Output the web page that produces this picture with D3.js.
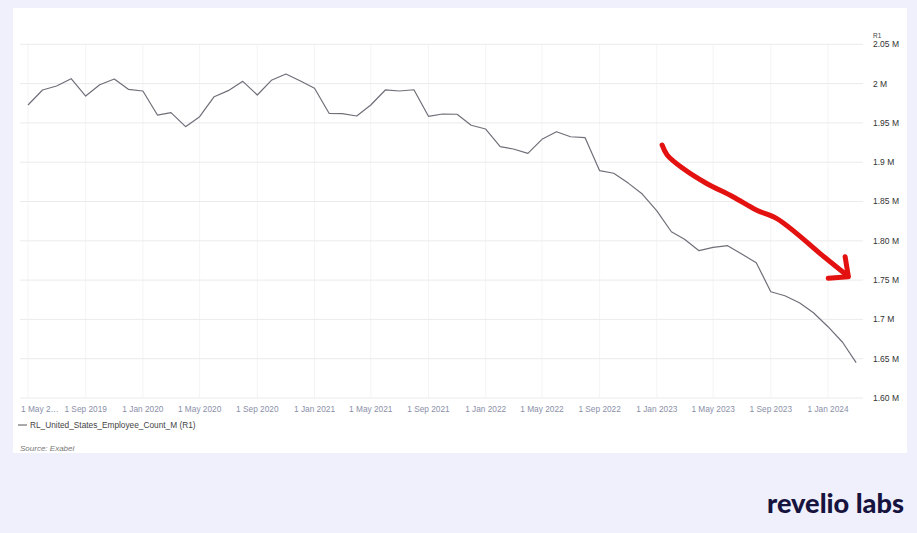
<!DOCTYPE html>
<html>
<head>
<meta charset="utf-8">
<script src="https://cdn.jsdelivr.net/npm/d3@7"></script>
<style>
  html, body { margin: 0; padding: 0; background: #eff0fb; }
  svg { display: block; }
</style>
</head>
<body>
<script>
// ---------- DATA ----------
const startMonth = "2019-05-01";
const employeeCountM = [
  1.9728, 1.9919, 1.9970, 2.0062, 1.9842, 1.9986, 2.0058, 1.9927,
  1.9906, 1.9600, 1.9630, 1.9452, 1.9579, 1.9833, 1.9910, 2.0029, 1.9855, 2.0042, 2.0122, 2.0037,
  1.9940, 1.9622, 1.9617, 1.9588, 1.9728, 1.9919, 1.9906, 1.9922, 1.9584, 1.9613, 1.9610, 1.9470,
  1.9422, 1.9197, 1.9168, 1.9113, 1.9291, 1.9388, 1.9324, 1.9312, 1.8892, 1.8859, 1.8734, 1.8595,
  1.8380, 1.8115, 1.8019, 1.7874, 1.7917, 1.7938, 1.7832, 1.7721, 1.7352, 1.7301, 1.7212, 1.7085,
  1.6907, 1.6709, 1.6450
];
const xTickDates = ["2019-05-01","2019-09-01","2020-01-01","2020-05-01","2020-09-01","2021-01-01",
  "2021-05-01","2021-09-01","2022-01-01","2022-05-01","2022-09-01","2023-01-01","2023-05-01",
  "2023-09-01","2024-01-01"];
const xTickLabels = ["1 May 2…","1 Sep 2019","1 Jan 2020","1 May 2020","1 Sep 2020","1 Jan 2021",
  "1 May 2021","1 Sep 2021","1 Jan 2022","1 May 2022","1 Sep 2022","1 Jan 2023","1 May 2023",
  "1 Sep 2023","1 Jan 2024"];
const yTickValues = [2.05, 2.00, 1.95, 1.90, 1.85, 1.80, 1.75, 1.70, 1.65, 1.60];
const yTickLabels = ["2.05 M","2 M","1.95 M","1.9 M","1.85 M","1.80 M","1.75 M","1.7 M","1.65 M","1.60 M"];
const seriesName = "RL_United_States_Employee_Count_M (R1)";
const sourceText = "Source: Exabel";
// hand-drawn annotation arrow, in (month index from start, value)
const arrowShaft = [[44.36,1.9219],[44.71,1.9092],[45.87,1.8922],[47.51,1.8732],[49.37,1.8561],
  [51.0,1.8392],[52.4,1.8286],[53.8,1.8095],[55.44,1.7841],[57.3,1.7565]];
const arrowHeadA = [[57.19,1.7798],[57.42,1.7552]];
const arrowHeadB = [[56.02,1.7523],[57.42,1.7543]];

// ---------- SETUP ----------
const W = 917, H = 533;
const parse = d3.timeParse("%Y-%m-%d");
const start = parse(startMonth);
const data = employeeCountM.map((v, i) => ({ date: d3.timeMonth.offset(start, i), value: v }));
function monthIdxToDate(m) {
  const f = Math.floor(m);
  const a = d3.timeMonth.offset(start, f), b = d3.timeMonth.offset(start, f + 1);
  return new Date(+a + (m - f) * (b - a));
}

const svg = d3.select("body").append("svg").attr("width", W).attr("height", H);
svg.append("rect").attr("width", W).attr("height", H).attr("fill", "#eff0fb");
svg.append("rect").attr("x", 13).attr("y", 8).attr("width", 894).attr("height", 445).attr("fill", "#ffffff");

const x = d3.scaleTime().domain([parse("2019-05-01"), parse("2024-01-01")]).range([28, 828]);
const y = d3.scaleLinear().domain([1.60, 2.05]).range([398, 44.3]);
const gridLeft = 20, gridRight = 863;

// vertical grid
svg.append("g").selectAll("line").data(xTickDates).join("line")
  .attr("x1", d => x(parse(d))).attr("x2", d => x(parse(d)))
  .attr("y1", y(2.05)).attr("y2", y(1.60))
  .attr("stroke", "#f4f4f6").attr("stroke-width", 1);

// horizontal grid
svg.append("g").selectAll("line").data(yTickValues).join("line")
  .attr("x1", gridLeft).attr("x2", gridRight)
  .attr("y1", d => y(d)).attr("y2", d => y(d))
  .attr("stroke", "#ebebee").attr("stroke-width", 1);

// y labels (right)
svg.append("g").selectAll("text").data(yTickValues).join("text")
  .attr("x", 873).attr("y", d => y(d)).attr("dy", "0.35em")
  .attr("font-family", "Liberation Sans, Arial, sans-serif").attr("font-size", 8.5)
  .attr("fill", "#333").text((d, i) => yTickLabels[i]);
svg.append("text").attr("x", 873).attr("y", y(2.05) - 6)
  .attr("font-family", "Liberation Sans, Arial, sans-serif").attr("font-size", 6.5)
  .attr("fill", "#444").text("R1");

// x labels
svg.append("g").selectAll("text").data(xTickDates).join("text")
  .attr("x", (d, i) => i === 0 ? 21 : x(parse(d)))
  .attr("y", 412)
  .attr("text-anchor", (d, i) => i === 0 ? "start" : "middle")
  .attr("font-family", "Liberation Sans, Arial, sans-serif").attr("font-size", 8.3)
  .attr("fill", "#8a8fa8").text((d, i) => xTickLabels[i]);

// line
const line = d3.line().x(d => x(d.date)).y(d => y(d.value));
svg.append("path").datum(data).attr("d", line)
  .attr("fill", "none").attr("stroke", "#6f6f79").attr("stroke-width", 1.2)
  .attr("stroke-linejoin", "round");

// annotation arrow
const arrowLine = d3.line().x(d => x(monthIdxToDate(d[0]))).y(d => y(d[1])).curve(d3.curveCatmullRom);
[arrowShaft, arrowHeadA, arrowHeadB].forEach(pts => {
  svg.append("path").attr("d", arrowLine(pts))
    .attr("fill", "none").attr("stroke", "#e3110f").attr("stroke-width", 5)
    .attr("stroke-linecap", "round").attr("stroke-linejoin", "round");
});

// legend
svg.append("line").attr("x1", 18).attr("x2", 27).attr("y1", 425).attr("y2", 425)
  .attr("stroke", "#555").attr("stroke-width", 1);
svg.append("text").attr("x", 30).attr("y", 425).attr("dy", "0.35em")
  .attr("font-family", "Liberation Sans, Arial, sans-serif").attr("font-size", 8.3)
  .attr("fill", "#444").text(seriesName);

// source
svg.append("text").attr("x", 20).attr("y", 448).attr("dy", "0.35em")
  .attr("font-family", "Liberation Sans, Arial, sans-serif").attr("font-size", 8)
  .attr("font-style", "italic").attr("fill", "#777").text(sourceText);

// logo
svg.append("text").attr("x", 767).attr("y", 513)
  .attr("font-family", "Lato, 'Open Sans', sans-serif").attr("font-weight", 900)
  .attr("font-size", 26).attr("fill", "#17133f")
  .attr("textLength", 137).attr("lengthAdjust", "spacingAndGlyphs")
  .text("revelio labs");
</script>
</body>
</html>
